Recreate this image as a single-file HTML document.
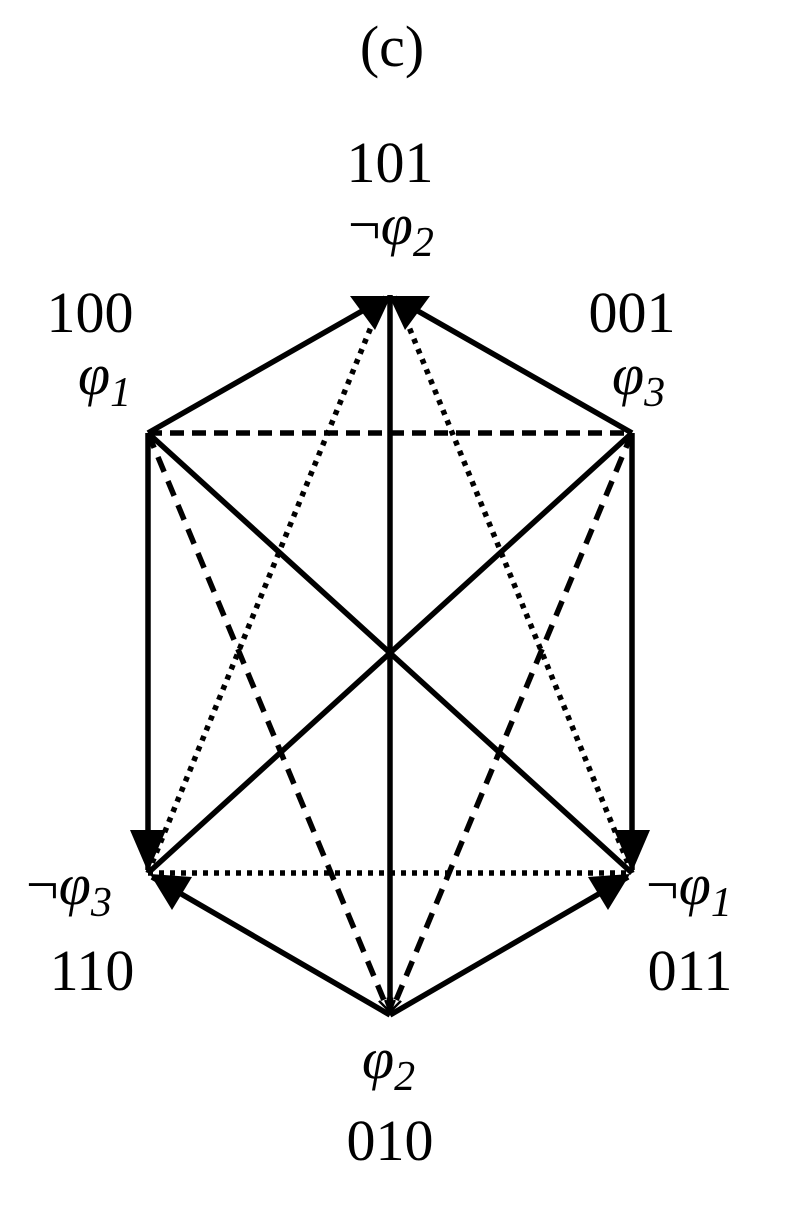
<!DOCTYPE html>
<html><head><style>
body{margin:0;background:#fff;}
svg{display:block;}
text{font-family:"Liberation Serif",serif;fill:#000;}
</style></head><body>
<svg width="792" height="1215" viewBox="0 0 792 1215">
<defs>
<marker id="s" viewBox="0 0 10 10" refX="10" refY="5" markerWidth="12" markerHeight="12" orient="auto" markerUnits="userSpaceOnUse">
<path d="M0,1 L10,5 L0,9" fill="none" stroke="#000" stroke-width="2"/>
</marker>
</defs>
<g stroke="#000" stroke-width="5.5" fill="none">
<line x1="148" y1="433" x2="632" y2="433" stroke-dasharray="14,8"/>
<line x1="148" y1="873" x2="632" y2="873" stroke-dasharray="5,6"/>
<line x1="148" y1="873" x2="380" y2="305" stroke-dasharray="5,6"/>
<line x1="632" y1="873" x2="400" y2="305" stroke-dasharray="5,6"/>
<line x1="148" y1="433" x2="388" y2="1010" stroke-dasharray="16,10" marker-end="url(#s)"/>
<line x1="632" y1="433" x2="392" y2="1010" stroke-dasharray="16,10" marker-end="url(#s)"/>
<line x1="390" y1="295" x2="390" y2="1012" marker-end="url(#s)"/>
<line x1="148" y1="433" x2="632" y2="873"/>
<line x1="632" y1="433" x2="148" y2="873"/>
<line x1="148" y1="433" x2="385" y2="298"/>
<line x1="632" y1="433" x2="395" y2="298"/>
<line x1="148" y1="433" x2="148" y2="870"/>
<line x1="632" y1="433" x2="632" y2="870"/>
<line x1="390" y1="1015" x2="152" y2="877"/>
<line x1="390" y1="1015" x2="628" y2="877"/>
</g>
<g fill="#000">
<path d="M350,296 L430,296 L405,330 L390,298 L375,330 z"/>
<path d="M130,830 L166,830 L148,872 z"/>
<path d="M614,830 L650,830 L632,872 z"/>
<path d="M150,874 L192,877 L172,910 z"/>
<path d="M630,874 L588,877 L608,910 z"/>
</g>
<text x="392" y="66" font-size="58" text-anchor="middle">(c)</text>
<text x="390" y="182" font-size="58" text-anchor="middle">101</text>
<text x="348" y="244" font-size="58">¬<tspan font-style="italic">φ</tspan><tspan font-size="42" font-style="italic" dy="12">2</tspan></text>
<text x="90" y="332" font-size="58" text-anchor="middle">100</text>
<text x="78" y="394" font-size="58" font-style="italic">φ<tspan font-size="42" dy="12">1</tspan></text>
<text x="632" y="332" font-size="58" text-anchor="middle">001</text>
<text x="612" y="394" font-size="58" font-style="italic">φ<tspan font-size="42" dy="12">3</tspan></text>
<text x="26" y="904" font-size="58">¬<tspan font-style="italic">φ</tspan><tspan font-size="42" font-style="italic" dy="12">3</tspan></text>
<text x="92" y="990" font-size="58" text-anchor="middle">110</text>
<text x="646" y="904" font-size="58">¬<tspan font-style="italic">φ</tspan><tspan font-size="42" font-style="italic" dy="12">1</tspan></text>
<text x="690" y="990" font-size="58" text-anchor="middle">011</text>
<text x="362" y="1078" font-size="58" font-style="italic">φ<tspan font-size="42" dy="12">2</tspan></text>
<text x="390" y="1160" font-size="58" text-anchor="middle">010</text>
</svg>
</body></html>
